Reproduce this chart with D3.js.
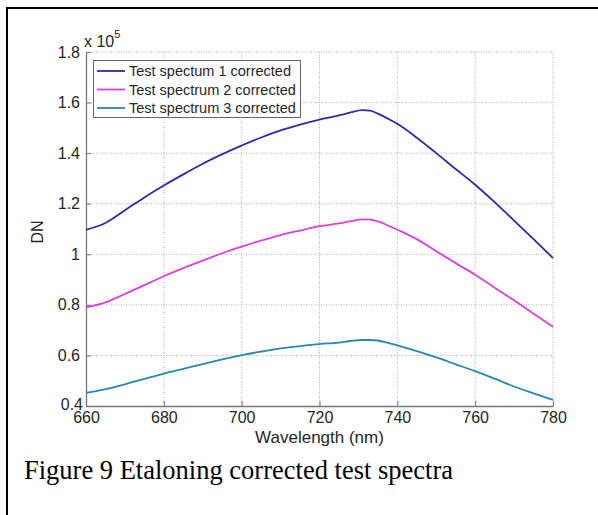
<!DOCTYPE html>
<html>
<head>
<meta charset="utf-8">
<script src="https://cdn.jsdelivr.net/npm/d3@7"></script>
<style>
  html, body { margin: 0; padding: 0; background: #fff; }
  svg { display: block; }
</style>
</head>
<body>
<svg id="chart" width="598" height="515"></svg>
<script>
// Wavelength samples (nm)
const wavelength = [660, 665, 670, 675, 680, 685, 690, 695, 700, 705, 710, 715, 720, 725, 728, 731, 733, 735, 738, 740, 745, 750, 755, 760, 765, 770, 775, 780];

// Corrected spectra, DN in units of 10^5
const spectrum1 = [1.097, 1.124, 1.174, 1.225, 1.272, 1.316, 1.358, 1.396, 1.430, 1.462, 1.490, 1.513, 1.533, 1.549, 1.561, 1.570, 1.568, 1.556, 1.533, 1.516, 1.461, 1.400, 1.337, 1.275, 1.206, 1.133, 1.060, 0.985];
const spectrum2 = [0.790, 0.810, 0.843, 0.878, 0.913, 0.945, 0.975, 1.004, 1.030, 1.054, 1.076, 1.094, 1.111, 1.122, 1.131, 1.138, 1.137, 1.130, 1.111, 1.097, 1.060, 1.012, 0.965, 0.919, 0.868, 0.818, 0.765, 0.713];
const spectrum3 = [0.452, 0.467, 0.486, 0.507, 0.528, 0.547, 0.566, 0.584, 0.601, 0.615, 0.628, 0.637, 0.645, 0.651, 0.657, 0.661, 0.661, 0.659, 0.648, 0.640, 0.617, 0.592, 0.565, 0.538, 0.508, 0.477, 0.450, 0.424];

const seriesNames = ["Test spectum 1 corrected", "Test spectrum 2 corrected", "Test spectrum 3 corrected"];
const seriesColors = ["#2b2bab", "#dd3fdd", "#2a86b2"];

const xTicks = [660, 680, 700, 720, 740, 760, 780];
const yTicks = [0.4, 0.6, 0.8, 1.0, 1.2, 1.4, 1.6, 1.8];
const yTickLabels = ["0.4", "0.6", "0.8", "1", "1.2", "1.4", "1.6", "1.8"];

const xLabel = "Wavelength (nm)";
const yLabel = "DN";
const caption = "Figure 9 Etaloning corrected test spectra";

const svg = d3.select("#chart");
const sans = "'Liberation Sans', Arial, sans-serif";
const ink = "#262626";

// Page frame (left and top rules)
svg.append("line").attr("x1", 7).attr("x2", 598).attr("y1", 8).attr("y2", 8)
  .attr("stroke", "#000").attr("stroke-width", 2);
svg.append("line").attr("x1", 7).attr("x2", 7).attr("y1", 7).attr("y2", 515)
  .attr("stroke", "#000").attr("stroke-width", 2);

const plot = { left: 86, right: 553, top: 52, bottom: 406 };

const x = d3.scaleLinear().domain([660, 780]).range([plot.left, plot.right]);
const y = d3.scaleLinear().domain([0.4, 1.8]).range([plot.bottom, plot.top]);

const g = svg.append("g");

// Dotted grid
g.append("g").selectAll("line").data(xTicks.slice(1)).join("line")
  .attr("x1", d => x(d)).attr("x2", d => x(d))
  .attr("y1", plot.top).attr("y2", plot.bottom)
  .attr("stroke", "#b0b0b0").attr("stroke-width", 1).attr("stroke-dasharray", "1,1.5");
g.append("g").selectAll("line").data(yTicks.slice(1)).join("line")
  .attr("x1", plot.left).attr("x2", plot.right)
  .attr("y1", d => y(d)).attr("y2", d => y(d))
  .attr("stroke", "#b0b0b0").attr("stroke-width", 1).attr("stroke-dasharray", "1,1.5");

// Axes with inward ticks
const xAxis = d3.axisBottom(x).tickValues(xTicks).tickSizeInner(-5).tickSizeOuter(0).tickPadding(6);
const yAxis = d3.axisLeft(y).tickValues(yTicks).tickSizeInner(-5).tickSizeOuter(0).tickPadding(6)
  .tickFormat((d, i) => yTickLabels[i]);

const gx = g.append("g").attr("transform", `translate(0,${plot.bottom})`).call(xAxis);
const gy = g.append("g").attr("transform", `translate(${plot.left},0)`).call(yAxis);
[gx, gy].forEach(a => {
  a.select(".domain").attr("stroke", "#777").attr("stroke-width", 1.3);
  a.selectAll(".tick line").attr("stroke", "#777");
  a.selectAll(".tick text").attr("fill", ink).style("font-family", sans).style("font-size", "16px");
});
// lowest y label sits a little to the right, tucked into the corner
gy.selectAll(".tick text").filter(d => d === 0.4).attr("x", -3).attr("dy", "0.22em");

// Exponent label
const expo = svg.append("text").attr("x", 84).attr("y", 47)
  .style("font-family", sans).style("font-size", "16px").attr("fill", ink);
expo.append("tspan").text("x 10");
expo.append("tspan").attr("dy", -9).style("font-size", "11px").text("5");

// Curves
const series = [spectrum1, spectrum2, spectrum3];
const line = d3.line()
  .x((d, i) => x(wavelength[i]))
  .y(d => y(d))
  .curve(d3.curveMonotoneX);

g.append("g").selectAll("path").data(series).join("path")
  .attr("d", d => line(d))
  .attr("fill", "none")
  .attr("stroke", (d, i) => seriesColors[i])
  .attr("stroke-width", 1.8);

// Legend
const leg = svg.append("g");
leg.append("rect").attr("x", 93.5).attr("y", 60.5).attr("width", 207).attr("height", 57)
  .attr("fill", "#fff").attr("stroke", "#666").attr("stroke-width", 1);
seriesNames.forEach((name, i) => {
  const ly = 71 + i * 18.5;
  leg.append("line").attr("x1", 97).attr("x2", 125).attr("y1", ly).attr("y2", ly)
    .attr("stroke", seriesColors[i]).attr("stroke-width", 1.8);
  leg.append("text").attr("x", 129).attr("y", ly).attr("dy", "0.35em")
    .style("font-family", sans).style("font-size", "14.5px").attr("fill", ink).text(name);
});

// Axis titles
svg.append("text").attr("x", (plot.left + plot.right) / 2).attr("y", 442.5)
  .attr("text-anchor", "middle").style("font-family", sans).style("font-size", "17px")
  .attr("fill", ink).text(xLabel);
svg.append("text").attr("transform", "translate(43,232) rotate(-90)")
  .attr("text-anchor", "middle").style("font-family", sans).style("font-size", "16px")
  .attr("fill", ink).text(yLabel);

// Caption
svg.append("text").attr("x", 24).attr("y", 479)
  .style("font-family", "'Liberation Serif', 'Times New Roman', serif").style("font-size", "26.5px")
  .attr("fill", "#000").text(caption);
</script>
</body>
</html>
